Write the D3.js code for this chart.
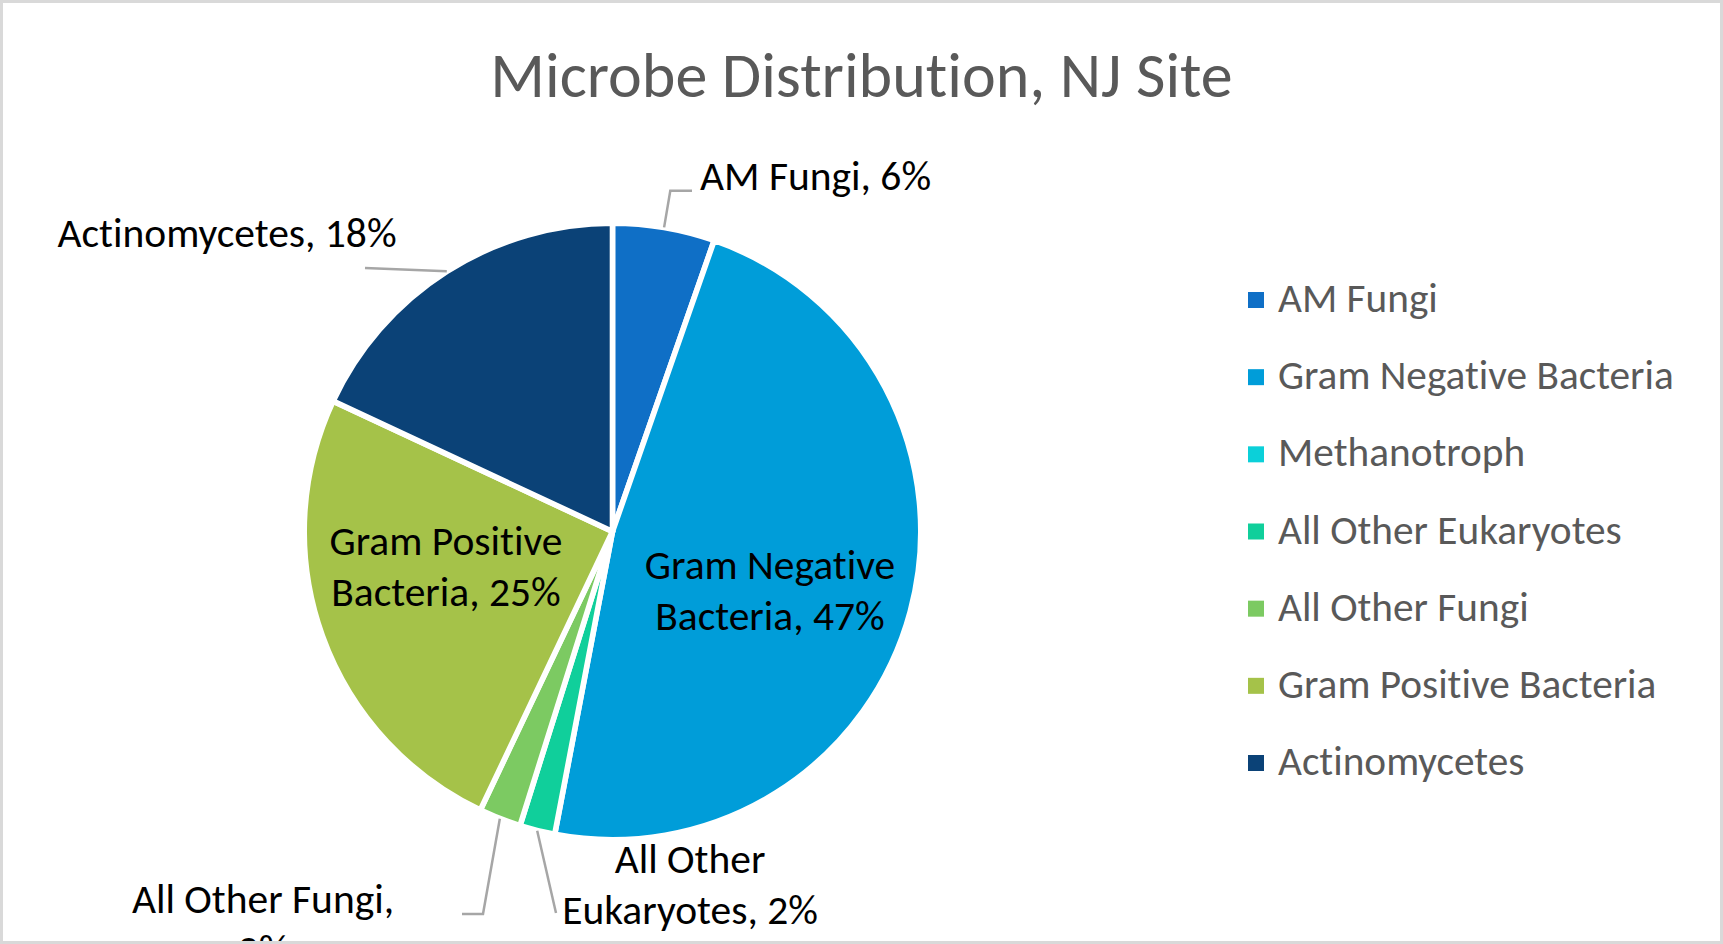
<!DOCTYPE html>
<html>
<head>
<meta charset="utf-8">
<script src="https://cdn.jsdelivr.net/npm/d3@7"></script>
<style>
  html, body { margin: 0; padding: 0; background: #fff; }
  svg { display: block; }
  text { font-variant-ligatures: none; font-feature-settings: "liga" 0; }
</style>
</head>
<body>
<div id="chart"></div>
<script>
// data
const categories = ["AM Fungi", "Gram Negative Bacteria", "Methanotroph", "All Other Eukaryotes",
                    "All Other Fungi", "Gram Positive Bacteria", "Actinomycetes"];
const shares = [5.35, 47.65, 0, 1.85, 2.2, 24.9, 18.05];
const pctLabels = ["6%", "47%", "0%", "2%", "2%", "25%", "18%"];
const colors = ["#0f6fc6", "#009dd9", "#0bd0d9", "#10cf9b", "#7cca62", "#a5c249", "#0b4277"];
const title = "Microbe Distribution, NJ Site";

const width = 1723, height = 944;
const font = "Carlito, Calibri, Lato, 'Open Sans', sans-serif";
const cx = 612.5, cy = 531.5, r = 305.5, gap = 5.6;

// where Excel put each data label (text anchor + leader end), by category index
const labelLayout = {
  0: {anchor: "start", x: 700, y: 190, wrap: 0, leader: "elbow", elbowR: 40, endX: 692},
  1: {anchor: "middle", x: 770, y: 579, wrap: 2},
  3: {anchor: "middle", x: 690, y: 873, wrap: 2, leader: "straight", end: [556, 913]},
  4: {anchor: "middle", x: 263, y: 913, wrap: 3, leader: "hook", end: [483, 914], tailX: 462},
  5: {anchor: "middle", x: 446, y: 555, wrap: 2},
  6: {anchor: "middle", x: 227, y: 247, wrap: 0, leader: "straight", end: [365, 268]}
};
const lineGap = 51;

const svg = d3.select("#chart").append("svg")
  .attr("width", width)
  .attr("height", height);

svg.append("rect")
  .attr("width", width).attr("height", height)
  .attr("fill", "#fff");

svg.append("text")
  .attr("x", width / 2)
  .attr("y", 97)
  .attr("text-anchor", "middle")
  .style("font-family", font)
  .style("font-size", "64px")
  .attr("fill", "#595959")
  .text(title);

let data = categories.map((c, i) => ({name: c, value: shares[i], pct: pctLabels[i], color: colors[i], i: i}));

let pie = d3.pie().sort(null).value(d => d.value);
let arcs = pie(data);

let arc = d3.arc().innerRadius(0).outerRadius(r + gap / 2);

let g = svg.append("g").attr("transform", `translate(${cx},${cy})`);

g.selectAll("path.slice")
  .data(arcs.filter(d => d.data.value > 0))
  .enter().append("path")
    .attr("class", "slice")
    .attr("d", arc)
    .attr("fill", d => d.data.color)
    .attr("stroke", "#fff")
    .attr("stroke-width", gap)
    .attr("stroke-linejoin", "round");

// point on the pie rim (page coords) at a given angle & radius
let polar = (a, rad) => [cx + rad * Math.sin(a), cy - rad * Math.cos(a)];

let leaders = svg.append("g");
let labels = svg.append("g");

arcs.forEach(d => {
  let L = labelLayout[d.data.i];
  if (!L) return;
  let mid = (d.startAngle + d.endAngle) / 2;
  let words = `${d.data.name}, ${d.data.pct}`.split(" ");
  let lines = L.wrap ? [words.slice(0, L.wrap).join(" "), words.slice(L.wrap).join(" ")] : [words.join(" ")];

  let t = labels.append("text")
    .attr("text-anchor", L.anchor)
    .style("font-family", font)
    .style("font-size", "41.5px")
    .attr("fill", "#000");
  lines.forEach((ln, k) => {
    t.append("tspan").attr("x", L.x).attr("y", L.y + k * lineGap).text(ln);
  });

  if (L.leader) {
    let p0 = polar(mid, r + 3);
    let pts;
    if (L.leader === "elbow") {
      let p1 = polar(mid, r + L.elbowR);
      pts = [p0, p1, [L.endX, p1[1]]];
    } else if (L.leader === "hook") {
      pts = [p0, L.end, [L.tailX, L.end[1]]];
    } else {
      pts = [p0, L.end];
    }
    leaders.append("path")
      .attr("d", d3.line()(pts))
      .attr("fill", "none")
      .attr("stroke", "#a6a6a6")
      .attr("stroke-width", 2.5);
  }
});

// legend
let legend = svg.append("g");
let legendY = d3.scalePoint().domain(categories).range([312, 775]);

legend.selectAll("rect")
  .data(data)
  .enter().append("rect")
    .attr("x", 1248)
    .attr("y", d => legendY(d.name) - 20)
    .attr("width", 16)
    .attr("height", 16)
    .attr("fill", d => d.color);

legend.selectAll("text")
  .data(data)
  .enter().append("text")
    .attr("x", 1278)
    .attr("y", d => legendY(d.name))
    .style("font-family", font)
    .style("font-size", "41.3px")
    .attr("fill", "#595959")
    .text(d => d.name);

// chart border
svg.append("rect")
  .attr("x", 1.5).attr("y", 1.5)
  .attr("width", width - 3).attr("height", height - 3)
  .attr("fill", "none")
  .attr("stroke", "#d9d9d9")
  .attr("stroke-width", 3);
</script>
</body>
</html>
